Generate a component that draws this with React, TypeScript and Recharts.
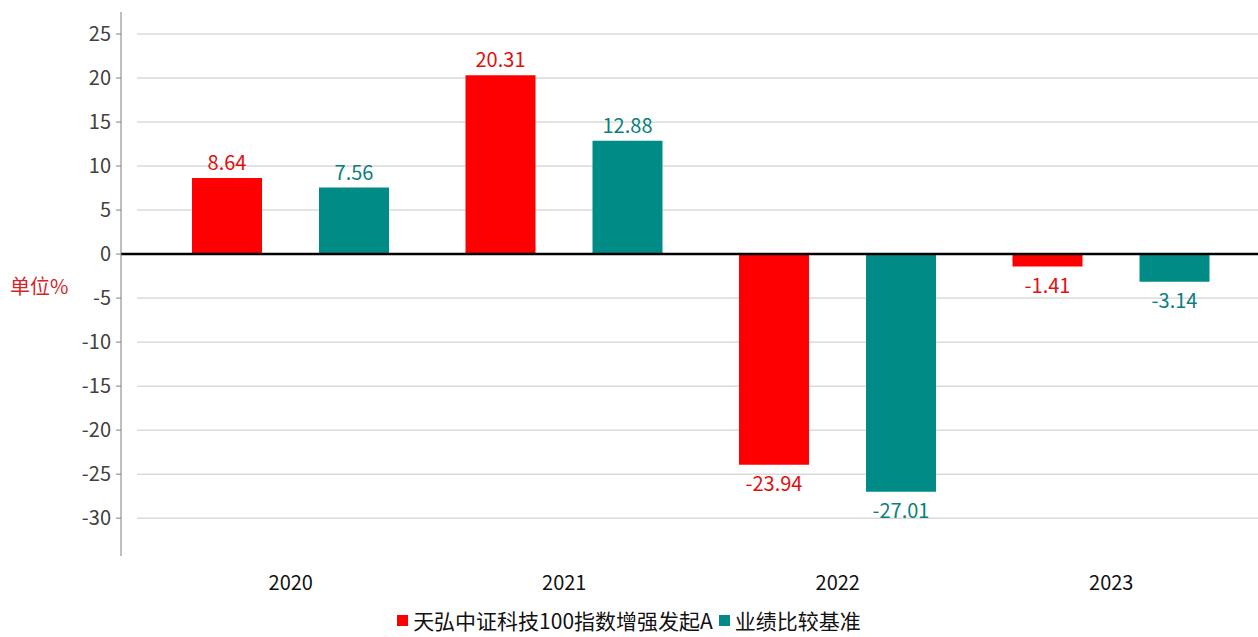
import React from "react";
import {
  BarChart,
  Bar,
  XAxis,
  YAxis,
  CartesianGrid,
  ReferenceLine,
  LabelList,
} from "recharts";

const years = ["2020", "2021", "2022", "2023"];
const fundReturns = [8.64, 20.31, -23.94, -1.41];
const benchReturns = [7.56, 12.88, -27.01, -3.14];
const yTicks = [-30, -25, -20, -15, -10, -5, 0, 5, 10, 15, 20, 25];

const FUND_NAME = "天弘中证科技100指数增强发起A";
const BENCH_NAME = "业绩比较基准";
const RED = "#ff0000";
const TEAL = "#008b87";
const FONT = "'Noto Sans CJK SC', 'Noto Sans', sans-serif";

const data = years.map((y, i) => ({
  year: y,
  fund: fundReturns[i],
  bench: benchReturns[i],
}));

// label above positive bars, below negative ones
const makeLabel = (color: string) => (props: any) => {
  const { x, y, width, height, value } = props;
  const top = Math.min(y, y + height);
  const bottom = Math.max(y, y + height);
  const cx = x + width / 2;
  const ty = value >= 0 ? top - 8 : bottom + 8;
  return (
    <text
      x={cx}
      y={ty}
      textAnchor="middle"
      dominantBaseline={value >= 0 ? "auto" : "hanging"}
      fill={color}
      fontSize={20}
      fontFamily={FONT}
    >
      {value.toFixed(2)}
    </text>
  );
};

// grid starts a bit right of the y axis; no lines at the plot edges
const gridLine = (p: any) => {
  if (p.y1 < 20 || p.y1 > 545) return <g key={`h-${p.y1}`} />;
  return (
    <line
      key={`h-${p.y1}`}
      x1={p.x1 + 16}
      y1={p.y1}
      x2={p.x2}
      y2={p.y2}
      stroke="#c8c8c8"
      strokeWidth={1}
    />
  );
};

export default function App() {
  return (
    <div style={{ position: "absolute", left: 0, top: 0, width: 1258, height: 637, background: "#fff", fontFamily: FONT, overflow: "hidden" }}>
      <BarChart
        width={1258}
        height={637}
        data={data}
        margin={{ top: 12, right: 0, left: 0, bottom: 41 }}
        barSize={70}
        barGap={57}
      >
        <CartesianGrid vertical={false} horizontal={gridLine} />
        <XAxis
          dataKey="year"
          height={40}
          padding={{ left: 33, right: 10 }}
          axisLine={false}
          tickLine={false}
          tickMargin={14}
          tick={{ fontSize: 20, fill: "#111", fontFamily: FONT }}
        />
        <YAxis
          width={121}
          domain={[-34.3, 27.5]}
          ticks={yTicks}
          allowDataOverflow
          interval={0}
          axisLine={{ stroke: "#7f7f7f" }}
          tickLine={{ stroke: "#7f7f7f" }}
          tickSize={5}
          tickMargin={5}
          tick={{ fontSize: 20, fill: "#404040", fontFamily: FONT }}
        />
        <Bar dataKey="fund" name={FUND_NAME} fill={RED} isAnimationActive={false}>
          <LabelList dataKey="fund" content={makeLabel("#e01010")} />
        </Bar>
        <Bar dataKey="bench" name={BENCH_NAME} fill={TEAL} isAnimationActive={false}>
          <LabelList dataKey="bench" content={makeLabel("#0a807c")} />
        </Bar>
        <ReferenceLine y={0} stroke="#000" strokeWidth={2.5} />
      </BarChart>
      <div
        style={{
          position: "absolute",
          left: 10,
          top: 271,
          color: "#d02828",
          fontSize: 20,
          whiteSpace: "nowrap",
        }}
      >
        单位%
      </div>
      <div
        style={{
          position: "absolute",
          left: 0,
          width: 1258,
          top: 606,
          height: 28,
          lineHeight: "28px",
          display: "flex",
          justifyContent: "center",
          alignItems: "center",
          fontSize: 21,
          color: "#111",
          whiteSpace: "nowrap",
        }}
      >
        <span style={{ display: "inline-block", width: 11, height: 11, background: RED, marginRight: 5 }} />
        <span style={{ marginRight: 6 }}>{FUND_NAME}</span>
        <span style={{ display: "inline-block", width: 11, height: 11, background: TEAL, marginRight: 5 }} />
        <span>{BENCH_NAME}</span>
      </div>
    </div>
  );
}
